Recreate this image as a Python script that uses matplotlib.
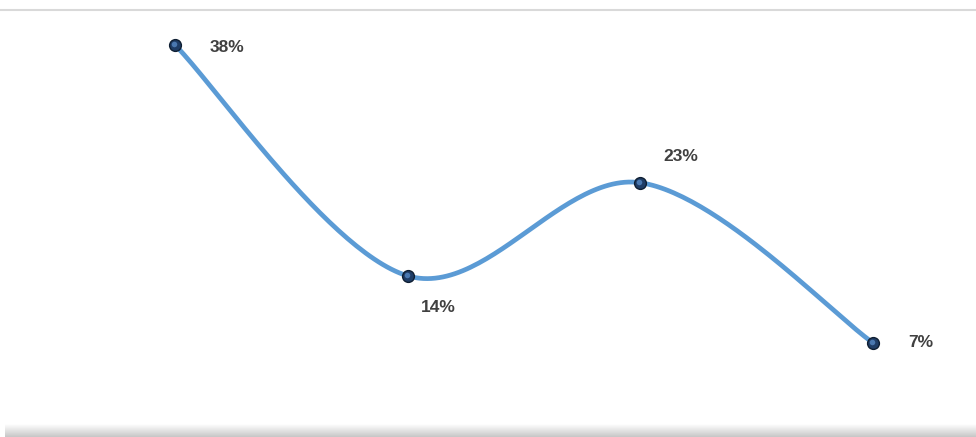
import numpy as np
import matplotlib
matplotlib.use("Agg")
import matplotlib.pyplot as plt

categories = ["A", "B", "C", "D"]
values = [37.6, 13.8, 23.4, 6.9]
labels = ["38%", "14%", "23%", "7%"]
label_offsets_px = [(52.5, -2.5), (31, -32), (40, 26), (48, 0)]

W, H = 976, 437
fig = plt.figure(figsize=(W / 100, H / 100), dpi=100)
fig.patch.set_facecolor("white")
ax = fig.add_axes([0, 0, 1, 1])
ax.set_facecolor("none")
ax.axis("off")

x = np.arange(len(values), dtype=float)
y = np.array(values, dtype=float)

# Catmull-Rom style smoothing (as in spreadsheet smoothed lines)
def smooth(xs, ys, n=60):
    px, py = [], []
    m = len(xs)
    for i in range(m - 1):
        p0 = (xs[max(i - 1, 0)], ys[max(i - 1, 0)])
        p1 = (xs[i], ys[i])
        p2 = (xs[i + 1], ys[i + 1])
        p3 = (xs[min(i + 2, m - 1)], ys[min(i + 2, m - 1)])
        c1 = (p1[0] + (p2[0] - p0[0]) / 6, p1[1] + (p2[1] - p0[1]) / 6)
        c2 = (p2[0] - (p3[0] - p1[0]) / 6, p2[1] - (p3[1] - p1[1]) / 6)
        t = np.linspace(0, 1, n)
        bx = (1 - t) ** 3 * p1[0] + 3 * (1 - t) ** 2 * t * c1[0] + 3 * (1 - t) * t ** 2 * c2[0] + t ** 3 * p2[0]
        by = (1 - t) ** 3 * p1[1] + 3 * (1 - t) ** 2 * t * c1[1] + 3 * (1 - t) * t ** 2 * c2[1] + t ** 3 * p2[1]
        px.extend(bx)
        py.extend(by)
    return np.array(px), np.array(py)

sx, sy = smooth(x, y)
ax.plot(sx, sy, color="#5b9bd5", lw=3.4, solid_capstyle="round", zorder=2)
ax.plot(x, y, "o", ms=8.5, mfc="#1f3d66", mec="#0f1f33", mew=1.0, zorder=3)
ax.plot(x - 0.004, y + 0.08, "o", ms=4, mfc="#4a78b0", mec="none", zorder=4)

# axis scaling: x=0 at px 175, x=3 at px 873; value v -> px 409.7 - 9.7*v
ppx = (873 - 175) / 3
ax.set_xlim(-175 / ppx, (W - 175) / ppx)
a, b = 409.7, 9.7
ax.set_ylim((a - H) / b, a / b)

for xi, yi, lab, (dx, dy) in zip(x, y, labels, label_offsets_px):
    ax.annotate(lab, (xi, yi), xytext=(dx * 0.72, dy * 0.72), textcoords="offset points",
                ha="center", va="center", fontsize=12.5, fontweight="bold",
                family="Liberation Sans", color="#404040")

# top border line
fig.add_artist(plt.Line2D([0, 1], [1 - 10 / H, 1 - 10 / H], transform=fig.transFigure,
                          color="#d9d9d9", lw=1.5))
# bottom gradient band
grad = np.linspace(1.0, 0.78, 50).reshape(-1, 1)
bax = fig.add_axes([5 / W, 0, 1 - 5 / W, 13 / H])
bax.imshow(np.dstack([grad, grad, grad]), aspect="auto", extent=[0, 1, 0, 1])
bax.axis("off")

fig.savefig("out.png", dpi=100, facecolor="white")
